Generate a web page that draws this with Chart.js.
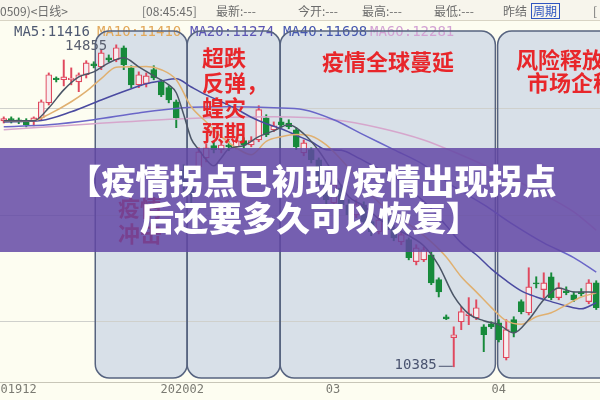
<!DOCTYPE html>
<html>
<head>
<meta charset="utf-8">
<script src="https://cdn.jsdelivr.net/npm/chart.js@4.4.0/dist/chart.umd.min.js"></script>
<style>
html, body { margin: 0; padding: 0; background: #fdfdf1; }
</style>
</head>
<body>
<canvas id="kline" width="600" height="400"></canvas>
<script>
// 日K线 (开 / 高 / 低 / 收), 从图上逐根估读
const openP = [13800,13830,13815,13800,13800,13840,14050,14395,14370,14370,
  14340,14440,14590,14550,14675,14645,14815,14535,14300,14315,
  14510,14340,14260,14065,13120,12910,13160,13285,13455,13400,
  13465,13440,13525,13465,13535,13840,13675,13785,13770,13675,
  13355,13400,13260,12940,12660,12870,12635,12495,12635,12400,
  12260,12455,12315,12120,12150,11845,11870,11940,11595,11080,
  10790,11010,11095,11065,10940,10980,10995,10510,11040,11290,
  11135,11550,11455,11635,11345,11440,11385,11425,11290,11550];
const highP = [13855,13855,13840,13830,13855,14090,14465,14410,14645,14535,
  14465,14635,14620,14785,14715,14855,14840,14565,14480,14465,
  14565,14370,14285,14090,13190,12980,13425,13480,13510,13525,
  13510,13550,13565,13580,14010,13885,13785,13840,13815,13705,
  13535,13425,13285,12980,12980,12910,12705,12705,12675,12455,
  12480,12510,12355,12260,12175,12080,12050,11980,11620,11105,
  10940,11220,11345,11315,10970,11010,11040,11040,11080,11315,
  11760,11635,11690,11690,11550,11495,11425,11470,11595,11580];
const lowP = [13770,13770,13760,13715,13730,13815,14020,14340,14285,14300,
  14205,14395,14535,14510,14620,14620,14510,14260,14260,14270,
  14370,14135,14050,13705,12775,12635,13090,13230,13355,13355,
  13385,13410,13425,13440,13510,13580,13650,13715,13690,13400,
  13315,13215,12910,12635,12605,12590,12425,12455,12360,12205,
  12230,12245,12135,12080,11870,11800,11845,11525,11355,11040,
  10385,10900,10970,11040,10595,10915,10730,10480,10800,11120,
  11105,11480,11345,11315,11315,11385,11290,11370,11260,11180];
const closeP = [13830,13800,13785,13745,13840,14065,14440,14370,14410,14395,
  14440,14605,14565,14745,14645,14815,14580,14300,14440,14425,
  14395,14160,14090,13840,12910,12775,13370,13425,13400,13465,
  13440,13525,13465,13525,13955,13605,13730,13745,13715,13440,
  13495,13260,12980,12705,12910,12635,12495,12635,12400,12260,
  12425,12290,12175,12220,11900,12035,12010,11550,11425,11050,
  10830,11150,11120,11205,10830,10940,10760,10900,10870,11150,
  11495,11535,11550,11345,11480,11415,11315,11400,11550,11205];

// 均线 (读图取点: 第几根K线 -> 数值)
const ma5At = [0,2,4,6,8,10,12,14,16,18,20,22,23,24,25,26,27,28,29,30,32,34,36,38,40,42,44,46,48,50,52,54,56,58,60,62,64,66,68,70,72,74,76,78,79];
const ma5 = [13800,13800,13800,13980,14230,14410,14480,14605,14675,14550,14425,14300,14190,13885,13550,13400,13260,13175,13285,13410,13455,13580,13660,13745,13620,13385,13065,12745,12620,12440,12315,12205,12065,11790,11370,11120,11025,10970,10855,11040,11315,11480,11425,11425,11416];
const ma10At = [0,4,6,9,11,13,15,17,19,21,23,25,27,29,31,33,35,37,39,41,43,45,47,49,51,53,55,57,59,61,63,65,67,69,71,73,75,77,79];
const ma10 = [13800,13805,13890,14065,14210,14385,14545,14550,14555,14510,14370,13995,13785,13580,13425,13330,13515,13580,13610,13590,13465,13260,13025,12775,12580,12440,12290,12120,11910,11635,11425,11210,11025,10975,11080,11135,11245,11355,11410];
const ma20At = [0,5,9,13,17,19,21,23,25,27,29,31,33,35,37,39,41,43,45,47,49,51,53,55,57,59,61,63,65,67,69,71,73,75,77,79];
const ma20 = [13785,13805,13925,14090,14245,14315,14355,14385,14270,14160,14065,13965,13850,13760,13690,13600,13510,13400,13390,13300,13190,13080,12955,12775,12580,12345,12105,11940,11745,11580,11440,11355,11290,11230,11190,11274];
const ma40At = [0,6,12,18,24,30,36,40,44,48,52,56,60,64,68,72,76,79];
const ma40 = [13717,13745,13815,13910,13980,13995,13980,13955,13815,13605,13400,13190,12885,12635,12355,12105,11900,11698];
const ma60At = [0,12,24,36,44,50,56,60,66,72,76,79];
const ma60 = [13675,13760,13830,13855,13815,13705,13535,13370,13090,12775,12535,12281];

// 月份刻度
const monthLabels = ['201912', '202002', '03', '04'];
const monthAt = [1.5, 23.8, 43.9, 66];
const gridVals = [13981, 12495, 11024];

// 阶段说明
const phases = [
  { from: 12.2, to: 24.45, lines: ['疫情', '冲击'], tx: 140, ty: 208, gap: 26, align: 'center' },
  { from: 24.45, to: 36.85, lines: ['超跌', '反弹，', '蝗灾', '预期'], tx: 202, ty: 58, gap: 25, align: 'left' },
  { from: 36.85, to: 65.55, lines: ['疫情全球蔓延'], tx: 388, ty: 62, gap: 0, align: 'center' },
  { from: 65.85, to: 84, lines: ['风险释放，', '市场企稳'], tx: 571, ty: 60, gap: 23, align: 'center' }
];
const titleLines = ['【疫情拐点已初现/疫情出现拐点', '后还要多久可以恢复】'];

const upColor = '#e0485e';
const downColor = '#168a3a';
const isUp = i => closeP[i] >= openP[i];

const maDefs = [
  { name: 'MA5', at: ma5At, vals: ma5, color: '#4b5566', text: '#4f5a72', lx: 14 },
  { name: 'MA10', at: ma10At, vals: ma10, color: '#e0b070', text: '#e2a85a', lx: 97 },
  { name: 'MA20', at: ma20At, vals: ma20, color: '#4a4aa0', text: '#5b55b5', lx: 190 },
  { name: 'MA40', at: ma40At, vals: ma40, color: '#6a66c8', text: '#4658b0', lx: 283 },
  { name: 'MA60', at: ma60At, vals: ma60, color: '#d6a6cc', text: '#d3a2d4', lx: 370 }
];

const headerItems = [
  ['0509)<日线>', 0], ['[08:45:45]', 142], ['最新:---', 216], ['今开:---', 298],
  ['最高:---', 362], ['最低:---', 434], ['昨结', 503], ['[', 593]
];

const decor = {
  id: 'decor',
  beforeDraw(chart) {
    const { ctx, width, height } = chart;
    ctx.save();
    ctx.fillStyle = '#fdfdf1';
    ctx.fillRect(0, 0, width, height);
    ctx.fillStyle = '#f7f5ec';
    ctx.fillRect(0, 0, width, 20);
    ctx.strokeStyle = '#d8d4c4';
    ctx.lineWidth = 1;
    ctx.beginPath(); ctx.moveTo(0, 20.5); ctx.lineTo(width, 20.5); ctx.stroke();
    ctx.font = '12px "Noto Sans CJK SC"';
    ctx.textBaseline = 'middle';
    ctx.fillStyle = '#6c6c6c';
    headerItems.forEach(([t, px]) => ctx.fillText(t, px, 11));
    ctx.fillStyle = '#2f55c0';
    ctx.fillText('周期', 533, 11);
    ctx.strokeStyle = '#2f55c0';
    ctx.strokeRect(531.5, 3.5, 28, 15);
    ctx.restore();
  },
  beforeDatasetsDraw(chart) {
    const { ctx, chartArea, width, scales: { x, y } } = chart;
    ctx.save();
    const top = chartArea.top - 7, bottom = chartArea.bottom - 5;
    phases.forEach(p => {
      const l = x.getPixelForValue(p.from), r = x.getPixelForValue(p.to);
      ctx.beginPath();
      ctx.roundRect(l, top, r - l, bottom - top, 14);
      ctx.fillStyle = '#d8e0e8';
      ctx.fill();
    });
    // 网格
    ctx.strokeStyle = '#cfd0cc';
    ctx.lineWidth = 1;
    gridVals.forEach(v => {
      const py = Math.round(y.getPixelForValue(v)) + 0.5;
      ctx.beginPath(); ctx.moveTo(0, py); ctx.lineTo(width, py); ctx.stroke();
    });
    ctx.strokeStyle = '#c8c6b8';
    ctx.beginPath(); ctx.moveTo(0, chartArea.bottom - 0.5); ctx.lineTo(width, chartArea.bottom - 0.5); ctx.stroke();
    // 均线数值
    ctx.font = '14px "DejaVu Sans Mono"';
    ctx.textBaseline = 'middle';
    maDefs.forEach(m => {
      ctx.fillStyle = m.text;
      ctx.fillText(m.name + ':' + m.vals[m.vals.length - 1], m.lx, 32);
    });
    // 阶段边框
    ctx.strokeStyle = '#56637f';
    ctx.lineWidth = 1.5;
    phases.forEach(p => {
      const l = x.getPixelForValue(p.from), r = x.getPixelForValue(p.to);
      ctx.beginPath();
      ctx.roundRect(l, top, r - l, bottom - top, 14);
      ctx.stroke();
    });
    // 月份
    ctx.font = '12px "DejaVu Sans Mono"';
    ctx.fillStyle = '#7a7a72';
    ctx.textAlign = 'center';
    monthLabels.forEach((t, k) => ctx.fillText(t, x.getPixelForValue(monthAt[k]), 390));
    ctx.restore();
  },
  afterDatasetsDraw(chart) {
    const { ctx, width, scales: { x, y } } = chart;
    ctx.save();
    ctx.textBaseline = 'middle';
    // 最高 / 最低标注
    const hi = Math.max(...highP), lo = Math.min(...lowP);
    const hiI = highP.indexOf(hi), loI = lowP.indexOf(lo);
    ctx.font = '14px "DejaVu Sans Mono"';
    ctx.fillStyle = '#5a6070';
    ctx.textAlign = 'right';
    ctx.fillText(String(hi), x.getPixelForValue(hiI) - 9, y.getPixelForValue(hi) + 2);
    const lx = x.getPixelForValue(loI), ly = y.getPixelForValue(lo);
    ctx.fillStyle = '#4a5470';
    ctx.fillText(String(lo), lx - 17, ly - 1);
    ctx.strokeStyle = '#4a5470';
    ctx.lineWidth = 1;
    ctx.beginPath(); ctx.moveTo(lx - 15, ly - 0.5); ctx.lineTo(lx - 1, ly - 0.5); ctx.stroke();
    // 阶段文字
    ctx.font = 'bold 22px "Noto Sans CJK SC"';
    ctx.fillStyle = '#e8262a';
    phases.forEach(p => {
      ctx.textAlign = p.align;
      p.lines.forEach((t, k) => ctx.fillText(t, p.tx, p.ty + k * p.gap));
    });
    // 标题横幅
    ctx.fillStyle = 'rgba(98, 70, 164, 0.84)';
    ctx.fillRect(0, 148, width, 104);
    ctx.font = '900 34px "Noto Sans CJK SC"';
    ctx.fillStyle = '#ffffff';
    ctx.textAlign = 'center';
    ctx.fillText(titleLines[0], 312, 181);
    ctx.fillText(titleLines[1], 310, 218);
    ctx.restore();
  }
};

const idx = openP.map((_, i) => i);
const bodyData = idx.map(i => ({ x: i, y: [openP[i], closeP[i]] }));
const wickData = idx.map(i => ({ x: i, y: [lowP[i], highP[i]] }));

const lineSets = maDefs.map(m => ({
  type: 'line',
  label: m.name,
  data: m.at.map((a, k) => ({ x: a, y: m.vals[k] })),
  borderColor: m.color,
  borderWidth: 1.5,
  pointRadius: 0,
  cubicInterpolationMode: 'monotone',
  order: 0
}));

new Chart(document.getElementById('kline'), {
  data: {
    datasets: [
      {
        type: 'bar',
        label: 'body',
        data: bodyData,
        grouped: false,
        barThickness: 6,
        borderWidth: 1.2,
        borderSkipped: false,
        backgroundColor: c => isUp(c.dataIndex) ? '#f7eef0' : downColor,
        borderColor: c => isUp(c.dataIndex) ? upColor : downColor,
        order: 1
      },
      {
        type: 'bar',
        label: 'wick',
        data: wickData,
        grouped: false,
        barThickness: 1.3,
        borderWidth: 0,
        backgroundColor: c => isUp(c.dataIndex) ? upColor : downColor,
        order: 2
      },
      ...lineSets
    ]
  },
  options: {
    responsive: false,
    animation: false,
    layout: { padding: { top: 38, bottom: 17, left: 0, right: 0 } },
    scales: {
      x: { type: 'linear', min: -0.5, max: 79.5, offset: false, display: false },
      y: { type: 'linear', min: 10160, max: 14950, display: false }
    },
    plugins: {
      legend: { display: false },
      tooltip: { enabled: false }
    }
  },
  plugins: [decor]
});
</script>
</body>
</html>
